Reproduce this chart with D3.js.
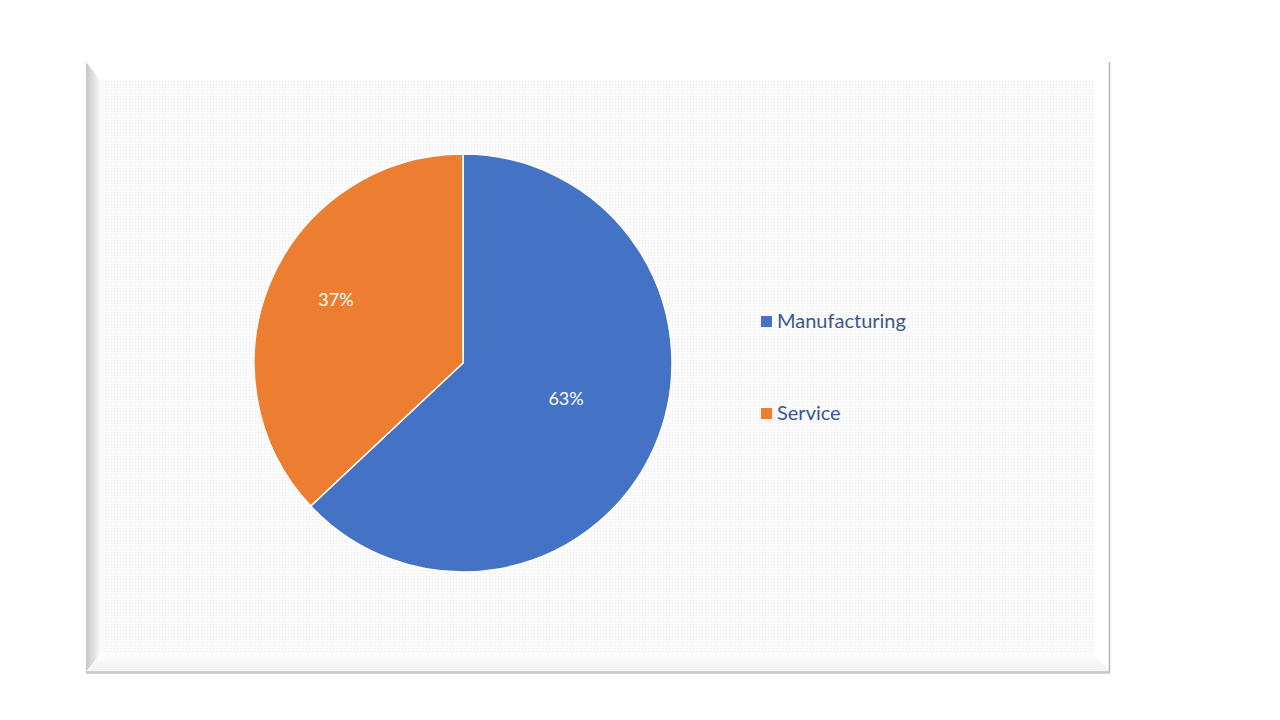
<!DOCTYPE html>
<html>
<head>
<meta charset="utf-8">
<script src="https://d3js.org/d3.v7.min.js"></script>
<style>
  body { margin: 0; background: #fff; }
  text { font-family: Lato, "Open Sans", "Liberation Sans", sans-serif; }
</style>
</head>
<body>
<svg width="1280" height="720"></svg>
<script>
// chart data
var categories = ["Manufacturing", "Service"];
var shares = [63, 37];
var colors = ["#4472C4", "#ED7D31"];

var svg = d3.select("svg");
var defs = svg.append("defs");

// dotted plot-area fill
var pat = defs.append("pattern")
  .attr("id", "dots").attr("width", 3).attr("height", 3)
  .attr("patternUnits", "userSpaceOnUse");
pat.append("rect").attr("width", 3).attr("height", 3).attr("fill", "#fbfbfb");
pat.append("rect").attr("width", 1).attr("height", 1).attr("fill", "#ededed");

var leftBevel = defs.append("linearGradient").attr("id", "lb")
  .attr("x1", 0).attr("x2", 1).attr("y1", 0).attr("y2", 0);
leftBevel.append("stop").attr("offset", 0).attr("stop-color", "#c6c6c6");
leftBevel.append("stop").attr("offset", 1).attr("stop-color", "#f7f7f7");

var botBevel = defs.append("linearGradient").attr("id", "bb")
  .attr("x1", 0).attr("x2", 0).attr("y1", 0).attr("y2", 1);
botBevel.append("stop").attr("offset", 0).attr("stop-color", "#fcfcfc");
botBevel.append("stop").attr("offset", 1).attr("stop-color", "#f2f2f2");

var box = { x: 86, y: 62, w: 1024, h: 610 };

// frame
svg.append("rect")
  .attr("x", box.x).attr("y", box.y + 2).attr("width", box.w).attr("height", box.h)
  .attr("fill", "#d4d4d4");
svg.append("rect")
  .attr("x", box.x).attr("y", box.y).attr("width", box.w).attr("height", box.h)
  .attr("fill", "#ffffff");
svg.append("rect")
  .attr("x", box.x + 14).attr("y", box.y + 18).attr("width", box.w - 30).attr("height", box.h - 36)
  .attr("fill", "url(#dots)");
// left bevel
svg.append("path")
  .attr("d", "M" + box.x + "," + box.y + " L" + (box.x + 14) + "," + (box.y + 18) +
    " L" + (box.x + 14) + "," + (box.y + box.h - 18) + " L" + box.x + "," + (box.y + box.h) + " Z")
  .attr("fill", "url(#lb)");
// bottom bevel
svg.append("path")
  .attr("d", "M" + box.x + "," + (box.y + box.h) + " L" + (box.x + 14) + "," + (box.y + box.h - 18) +
    " L" + (box.x + box.w - 16) + "," + (box.y + box.h - 18) + " L" + (box.x + box.w) + "," + (box.y + box.h) + " Z")
  .attr("fill", "url(#bb)");
// right and bottom edges
svg.append("line")
  .attr("x1", box.x + box.w - 0.5).attr("x2", box.x + box.w - 0.5)
  .attr("y1", box.y).attr("y2", box.y + box.h)
  .attr("stroke", "#b4b4b4").attr("stroke-width", 1.5);
svg.append("line")
  .attr("x1", box.x).attr("x2", box.x + box.w)
  .attr("y1", box.y + box.h).attr("y2", box.y + box.h)
  .attr("stroke", "#c4c4c4").attr("stroke-width", 1.5);

// pie
var cx = 463, cy = 363, radius = 209;
var pie = d3.pie().sort(null).value(function(d) { return d; });
var arcs = pie(shares);
var arc = d3.arc().innerRadius(0).outerRadius(radius);
var labelArc = d3.arc().innerRadius(radius * 0.6).outerRadius(radius * 0.6);

var g = svg.append("g").attr("transform", "translate(" + cx + "," + cy + ")");
g.selectAll("path.slice")
  .data(arcs)
  .enter().append("path")
  .attr("class", "slice")
  .attr("d", arc)
  .attr("fill", function(d, i) { return colors[i]; })
  .attr("stroke", "#fff")
  .attr("stroke-width", 1.5);

g.selectAll("text.lbl")
  .data(arcs)
  .enter().append("text")
  .attr("class", "lbl")
  .attr("transform", function(d) {
    var c = labelArc.centroid(d);
    return "translate(" + (c[0] - 12) + "," + (c[1] - 14) + ")";
  })
  .attr("text-anchor", "middle")
  .attr("dy", "0.35em")
  .attr("fill", "#fff")
  .attr("font-size", 18)
  .text(function(d) { return d.data + "%"; });

// legend
var legY = d3.scalePoint().domain(categories).range([321, 413]);
var leg = svg.selectAll("g.leg")
  .data(categories)
  .enter().append("g")
  .attr("class", "leg")
  .attr("transform", function(d) { return "translate(761," + legY(d) + ")"; });
leg.append("rect")
  .attr("x", 0).attr("y", -5).attr("width", 11).attr("height", 11)
  .attr("fill", function(d, i) { return colors[i]; });
leg.append("text")
  .attr("x", 16).attr("dy", "0.35em")
  .attr("font-size", 20)
  .attr("fill", "#3A5694")
  .text(function(d) { return d; });
</script>
</body>
</html>
